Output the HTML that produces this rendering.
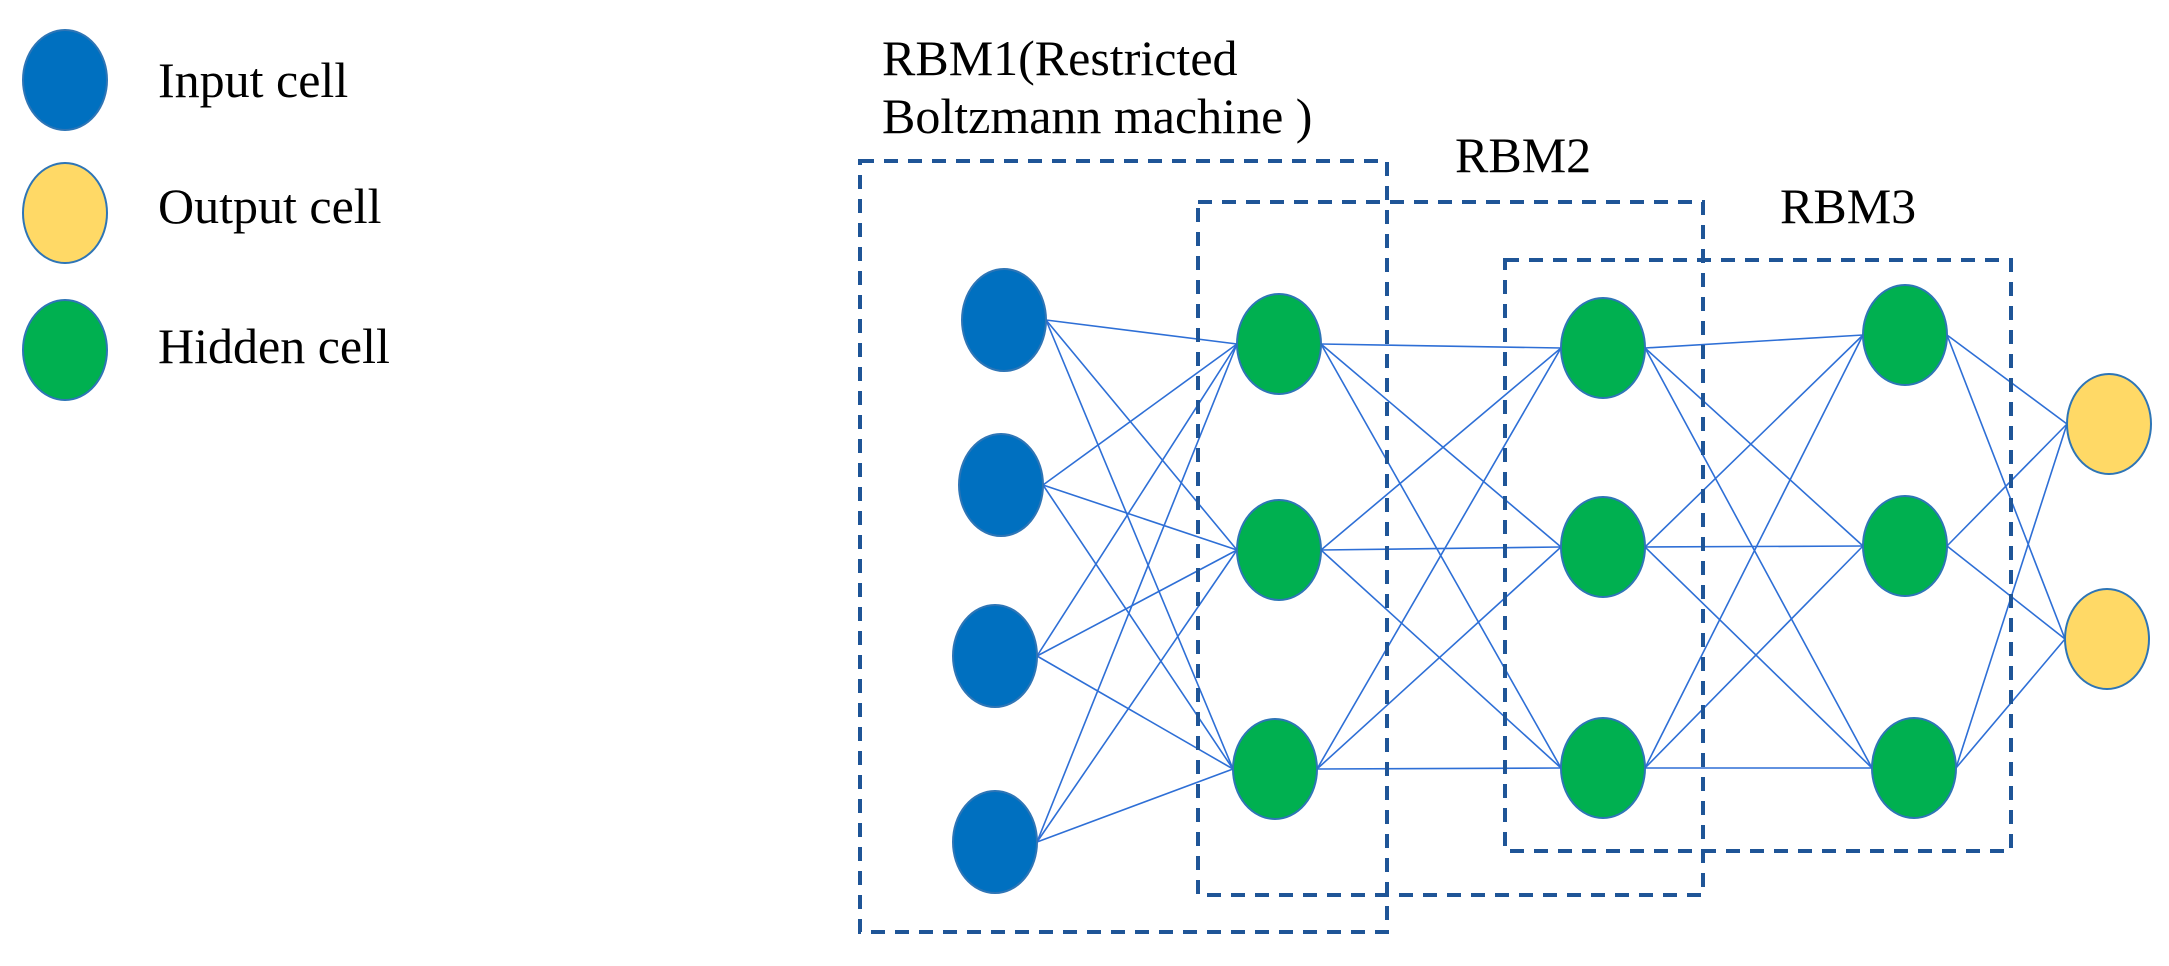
<!DOCTYPE html>
<html><head><style>
html,body{margin:0;padding:0;background:#fff;}
svg{display:block;}
text{font-family:"Liberation Serif",serif;font-size:50px;fill:#000;}
</style></head><body>
<svg width="2169" height="966" viewBox="0 0 2169 966" xmlns="http://www.w3.org/2000/svg">
<g stroke="#2e6fd6" stroke-width="1.6" fill="none">
<line x1="1046" y1="320" x2="1237" y2="344"/><line x1="1046" y1="320" x2="1237" y2="550"/><line x1="1046" y1="320" x2="1233" y2="769"/>
<line x1="1043" y1="485" x2="1237" y2="344"/><line x1="1043" y1="485" x2="1237" y2="550"/><line x1="1043" y1="485" x2="1233" y2="769"/>
<line x1="1037" y1="656" x2="1237" y2="344"/><line x1="1037" y1="656" x2="1237" y2="550"/><line x1="1037" y1="656" x2="1233" y2="769"/>
<line x1="1037" y1="842" x2="1237" y2="344"/><line x1="1037" y1="842" x2="1237" y2="550"/><line x1="1037" y1="842" x2="1233" y2="769"/>
<line x1="1321" y1="344" x2="1561" y2="348"/><line x1="1321" y1="344" x2="1561" y2="547"/><line x1="1321" y1="344" x2="1561" y2="768"/>
<line x1="1321" y1="550" x2="1561" y2="348"/><line x1="1321" y1="550" x2="1561" y2="547"/><line x1="1321" y1="550" x2="1561" y2="768"/>
<line x1="1317" y1="769" x2="1561" y2="348"/><line x1="1317" y1="769" x2="1561" y2="547"/><line x1="1317" y1="769" x2="1561" y2="768"/>
<line x1="1645" y1="348" x2="1863" y2="335"/><line x1="1645" y1="348" x2="1863" y2="546"/><line x1="1645" y1="348" x2="1872" y2="768"/>
<line x1="1645" y1="547" x2="1863" y2="335"/><line x1="1645" y1="547" x2="1863" y2="546"/><line x1="1645" y1="547" x2="1872" y2="768"/>
<line x1="1645" y1="768" x2="1863" y2="335"/><line x1="1645" y1="768" x2="1863" y2="546"/><line x1="1645" y1="768" x2="1872" y2="768"/>
<line x1="1947" y1="335" x2="2067" y2="424"/><line x1="1947" y1="335" x2="2065" y2="639"/>
<line x1="1947" y1="546" x2="2067" y2="424"/><line x1="1947" y1="546" x2="2065" y2="639"/>
<line x1="1956" y1="768" x2="2067" y2="424"/><line x1="1956" y1="768" x2="2065" y2="639"/>
</g>
<g fill="none" stroke="#1f5597" stroke-width="4" stroke-dasharray="14 10">
<rect x="860" y="161" width="527" height="771"/>
<rect x="1198" y="202" width="505" height="693"/>
<rect x="1505" y="260" width="506" height="591"/>
</g>
<g stroke="#2e75b6" stroke-width="2">
<ellipse cx="1004" cy="320" rx="42" ry="51" fill="#0070c0"/>
<ellipse cx="1001" cy="485" rx="42" ry="51" fill="#0070c0"/>
<ellipse cx="995" cy="656" rx="42" ry="51" fill="#0070c0"/>
<ellipse cx="995" cy="842" rx="42" ry="51" fill="#0070c0"/>
<ellipse cx="1279" cy="344" rx="42" ry="50" fill="#00b050"/>
<ellipse cx="1279" cy="550" rx="42" ry="50" fill="#00b050"/>
<ellipse cx="1275" cy="769" rx="42" ry="50" fill="#00b050"/>
<ellipse cx="1603" cy="348" rx="42" ry="50" fill="#00b050"/>
<ellipse cx="1603" cy="547" rx="42" ry="50" fill="#00b050"/>
<ellipse cx="1603" cy="768" rx="42" ry="50" fill="#00b050"/>
<ellipse cx="1905" cy="335" rx="42" ry="50" fill="#00b050"/>
<ellipse cx="1905" cy="546" rx="42" ry="50" fill="#00b050"/>
<ellipse cx="1914" cy="768" rx="42" ry="50" fill="#00b050"/>
<ellipse cx="2109" cy="424" rx="42" ry="50" fill="#ffd966"/>
<ellipse cx="2107" cy="639" rx="42" ry="50" fill="#ffd966"/>
<ellipse cx="65" cy="80" rx="42" ry="50" fill="#0070c0"/>
<ellipse cx="65" cy="213" rx="42" ry="50" fill="#ffd966"/>
<ellipse cx="65" cy="350" rx="42" ry="50" fill="#00b050"/>
</g>
<text x="158" y="97">Input cell</text>
<text x="158" y="223">Output cell</text>
<text x="158" y="363">Hidden cell</text>
<text x="882" y="75">RBM1(Restricted</text>
<text x="882" y="133">Boltzmann machine )</text>
<text x="1455" y="172">RBM2</text>
<text x="1780" y="223">RBM3</text>
</svg>
</body></html>
